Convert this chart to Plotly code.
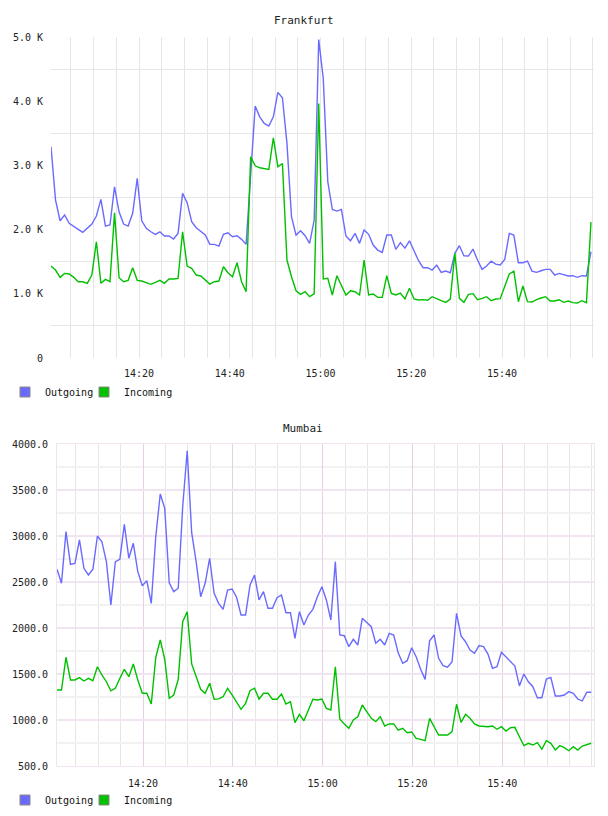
import plotly.graph_objects as go
import pandas as pd

# ---------------- data ----------------
DAY = "2013-05-10 "
frankfurt_start = "14:00:36"
mumbai_start = "14:00:50"
n_points = 120

tick_labels = ["14:20", "14:40", "15:00", "15:20", "15:40"]

frankfurt_outgoing = [
    3290, 2460, 2138, 2227, 2097, 2044, 2003, 1957, 2019, 2086,
    2211, 2470, 2055, 2071, 2667, 2278, 2086, 2055, 2253, 2798,
    2138, 2019, 1966, 1926, 1966, 1900, 1900, 1853, 1941, 2564,
    2420, 2122, 2030, 1966, 1915, 1770, 1770, 1744, 1926, 1951,
    1889, 1905, 1848, 1770, 2800, 3924, 3757, 3654, 3612, 3757,
    4137, 4053, 3343, 2200, 1915, 1982, 1905, 1786, 2149, 4961,
    4355, 2745, 2315, 2289, 2315, 1900, 1826, 1941, 1786, 1993,
    1926, 1759, 1681, 1645, 1915, 1915, 1692, 1798, 1712, 1826,
    1671, 1515, 1406, 1406, 1370, 1448, 1334, 1354, 1328, 1630,
    1749, 1593, 1588, 1697, 1526, 1381, 1432, 1510, 1463, 1448,
    1536, 1941, 1915, 1484, 1484, 1510, 1354, 1334, 1359, 1381,
    1381, 1292, 1318, 1292, 1277, 1282, 1256, 1282, 1277, 1655,
]
frankfurt_incoming = [
    1432, 1370, 1256, 1318, 1308, 1256, 1188, 1188, 1163, 1292,
    1811, 1163, 1225, 1188, 2262, 1251, 1188, 1210, 1406, 1210,
    1199, 1178, 1147, 1178, 1210, 1163, 1230, 1230, 1241, 1966,
    1432, 1396, 1292, 1277, 1215, 1152, 1188, 1199, 1422, 1328,
    1266, 1484, 1188, 1032, 3135, 2994, 2963, 2950, 2938, 3430,
    2980, 3030, 1526, 1266, 1048, 992, 1032, 955, 1000, 3965,
    1230, 1241, 981, 1282, 1121, 981, 1048, 1032, 981, 1526,
    981, 997, 945, 945, 1282, 1007, 981, 1010, 919, 1085,
    919, 903, 910, 900, 955, 919, 893, 867, 919, 1630,
    929, 867, 992, 1002, 910, 929, 955, 893, 919, 924,
    1110, 1308, 1354, 877, 1121, 877, 872, 910, 934, 955,
    888, 888, 908, 867, 888, 862, 856, 893, 862, 2117,
]
mumbai_outgoing = [
    2638, 2486, 3047, 2692, 2703, 2957, 2649, 2576, 2638, 3000,
    2938, 2721, 2250, 2721, 2747, 3127, 2758, 2921, 2612, 2460,
    2514, 2268, 2992, 3457, 3301, 2492, 2395, 2432, 3318, 3927,
    3036, 2720, 2340, 2486, 2758, 2377, 2268, 2203, 2413, 2424,
    2334, 2141, 2141, 2468, 2576, 2305, 2395, 2214, 2214, 2330,
    2359, 2166, 2166, 1888, 2177, 2033, 2141, 2203, 2340, 2449,
    2305, 2087, 2721, 1924, 1916, 1797, 1877, 1815, 2105, 2058,
    2014, 1834, 1877, 1815, 1942, 1924, 1730, 1616, 1645, 1786,
    1688, 1551, 1442, 1862, 1924, 1670, 1590, 1573, 1634, 2160,
    1913, 1851, 1761, 1725, 1808, 1797, 1717, 1562, 1580, 1736,
    1688, 1641, 1587, 1370, 1500, 1416, 1362, 1242, 1242, 1446,
    1464, 1261, 1261, 1272, 1308, 1290, 1228, 1207, 1301, 1301,
]
mumbai_incoming = [
    1326, 1326, 1682, 1435, 1435, 1460, 1424, 1453, 1427, 1579,
    1489, 1416, 1318, 1345, 1453, 1551, 1471, 1609, 1435, 1290,
    1290, 1174, 1682, 1870, 1660, 1236, 1272, 1442, 2069, 2177,
    1609, 1478, 1334, 1290, 1399, 1225, 1229, 1253, 1345, 1272,
    1199, 1116, 1181, 1318, 1345, 1228, 1290, 1290, 1225, 1225,
    1283, 1174, 1199, 971, 1062, 992, 1109, 1225, 1217, 1228,
    1127, 1109, 1579, 1008, 957, 910, 1000, 1036, 1163, 1090,
    1018, 982, 1036, 935, 957, 957, 890, 910, 862, 870,
    801, 790, 775, 1018, 927, 837, 837, 837, 873, 1171,
    975, 1062, 1018, 957, 935, 927, 927, 935, 899, 927,
    880, 916, 920, 818, 721, 747, 728, 753, 682, 775,
    747, 674, 721, 699, 666, 710, 674, 717, 728, 747,
]

frankfurt_yticks = [0, 1000, 2000, 3000, 4000, 5000]
frankfurt_ytext = ["0", "1.0 K", "2.0 K", "3.0 K", "4.0 K", "5.0 K"]
mumbai_yticks = [500, 1000, 1500, 2000, 2500, 3000, 3500, 4000]
mumbai_ytext = ["500.0", "1000.0", "1500.0", "2000.0", "2500.0", "3000.0", "3500.0", "4000.0"]

series_names = ["Outgoing", "Incoming"]
colors = ["#6a6aff", "#00c000"]

# ---------------- helpers ----------------
W, H = 608, 816
def fx(px):
    return px / W
def fy(py):
    return 1 - py / H

f_times = pd.date_range(DAY + frankfurt_start, periods=n_points, freq="1min")
m_times = pd.date_range(DAY + mumbai_start, periods=n_points, freq="1min")
tickvals = [DAY + t for t in tick_labels]

fig = go.Figure()

for vals, name, col in zip([frankfurt_outgoing, frankfurt_incoming], series_names, colors):
    fig.add_trace(go.Scatter(x=f_times, y=vals, mode="lines", name=name,
                             line=dict(color=col, width=1.4), showlegend=False,
                             xaxis="x", yaxis="y"))
for vals, name, col in zip([mumbai_outgoing, mumbai_incoming], series_names, colors):
    fig.add_trace(go.Scatter(x=m_times, y=vals, mode="lines", name=name,
                             line=dict(color=col, width=1.4), showlegend=False,
                             xaxis="x2", yaxis="y2"))

# legend entries (square swatches), one legend per entry for exact placement
legend_ids = [["legend", "legend3"], ["legend2", "legend4"]]
for lgs, xa, ya in [(legend_ids[0], "x", "y"), (legend_ids[1], "x2", "y2")]:
    for lg, name, col in zip(lgs, series_names, colors):
        fig.add_trace(go.Scatter(x=[None], y=[None], mode="markers", name=name,
                                 marker=dict(symbol="square", size=10, color=col,
                                             line=dict(color="#888888", width=1)),
                                 legend=lg, xaxis=xa, yaxis=ya, hoverinfo="skip"))

grid_gray = "#e6e6e6"
pink_major = "#e6d0e6"
pink_minor = "#f0e4f0"

common_x = dict(type="date", tickmode="array", tickvals=tickvals, ticktext=tick_labels,
                ticks="", zeroline=False, ticklabelstandoff=8, automargin=False,
                tickfont=dict(family="DejaVu Sans Mono", size=10, color="#222"))

legend_style = dict(orientation="h", xanchor="left", yanchor="middle",
                    font=dict(family="DejaVu Sans Mono", size=10, color="#111"),
                    bgcolor="rgba(0,0,0,0)", borderwidth=0, itemclick=False)

fig.update_layout(
    width=W, height=H,
    margin=dict(l=0, r=0, t=0, b=0, autoexpand=False),
    paper_bgcolor="white", plot_bgcolor="white",
    font=dict(family="DejaVu Sans Mono", size=10, color="#222"),
    xaxis=dict(domain=[fx(51), fx(594)],
               range=[DAY + "14:00:36", DAY + "16:00:16"],
               showgrid=True, gridcolor=grid_gray, gridwidth=1, showline=False,
               minor=dict(dtick=300000, tick0=DAY + "14:00:00", showgrid=True,
                          gridcolor=grid_gray, gridwidth=1),
               anchor="y", **common_x),
    yaxis=dict(domain=[fy(358), fy(37)], range=[0, 5000],
               tickmode="array", tickvals=frankfurt_yticks, ticktext=frankfurt_ytext,
               showgrid=False, zeroline=False, showline=False, ticks="",
               ticklabelstandoff=7, automargin=False,
               minor=dict(tickmode="array", tickvals=[500, 1500, 2500, 3500, 4500],
                          showgrid=True, gridcolor=grid_gray, gridwidth=1),
               anchor="x"),
    xaxis2=dict(domain=[fx(57), fx(594)],
                range=[DAY + "14:00:50", DAY + "16:00:27"],
                showgrid=True, gridcolor=pink_major, gridwidth=1,
                showline=True, mirror=True, linecolor=pink_minor, linewidth=1,
                minor=dict(dtick=300000, tick0=DAY + "14:00:00", showgrid=True,
                           gridcolor=grid_gray, gridwidth=1),
                anchor="y2", **common_x),
    yaxis2=dict(domain=[fy(766), fy(444)], range=[500, 4000],
                tickmode="array", tickvals=mumbai_yticks, ticktext=mumbai_ytext,
                showgrid=True, gridcolor=pink_minor, gridwidth=1.5,
                zeroline=False, showline=True, mirror=True, linecolor=pink_minor,
                linewidth=1, ticks="", ticklabelstandoff=6, automargin=False,
                minor=dict(tickmode="array", tickvals=[750, 1250, 1750, 2250, 2750, 3250, 3750],
                           showgrid=True, gridcolor="#f2f2f2", gridwidth=1.5),
                anchor="x2"),
    legend=dict(x=fx(5), y=fy(392), **legend_style),
    legend3=dict(x=fx(84), y=fy(392), **legend_style),
    legend2=dict(x=fx(5), y=fy(800), **legend_style),
    legend4=dict(x=fx(84), y=fy(800), **legend_style),
    annotations=[
        dict(text="Frankfurt", x=fx(304), y=fy(20), xref="paper", yref="paper",
             showarrow=False, xanchor="center", yanchor="middle",
             font=dict(family="DejaVu Sans Mono", size=11, color="#222")),
        dict(text="Mumbai", x=fx(303), y=fy(428), xref="paper", yref="paper",
             showarrow=False, xanchor="center", yanchor="middle",
             font=dict(family="DejaVu Sans Mono", size=11, color="#222")),
    ],
)

fig.write_html("out.html")
